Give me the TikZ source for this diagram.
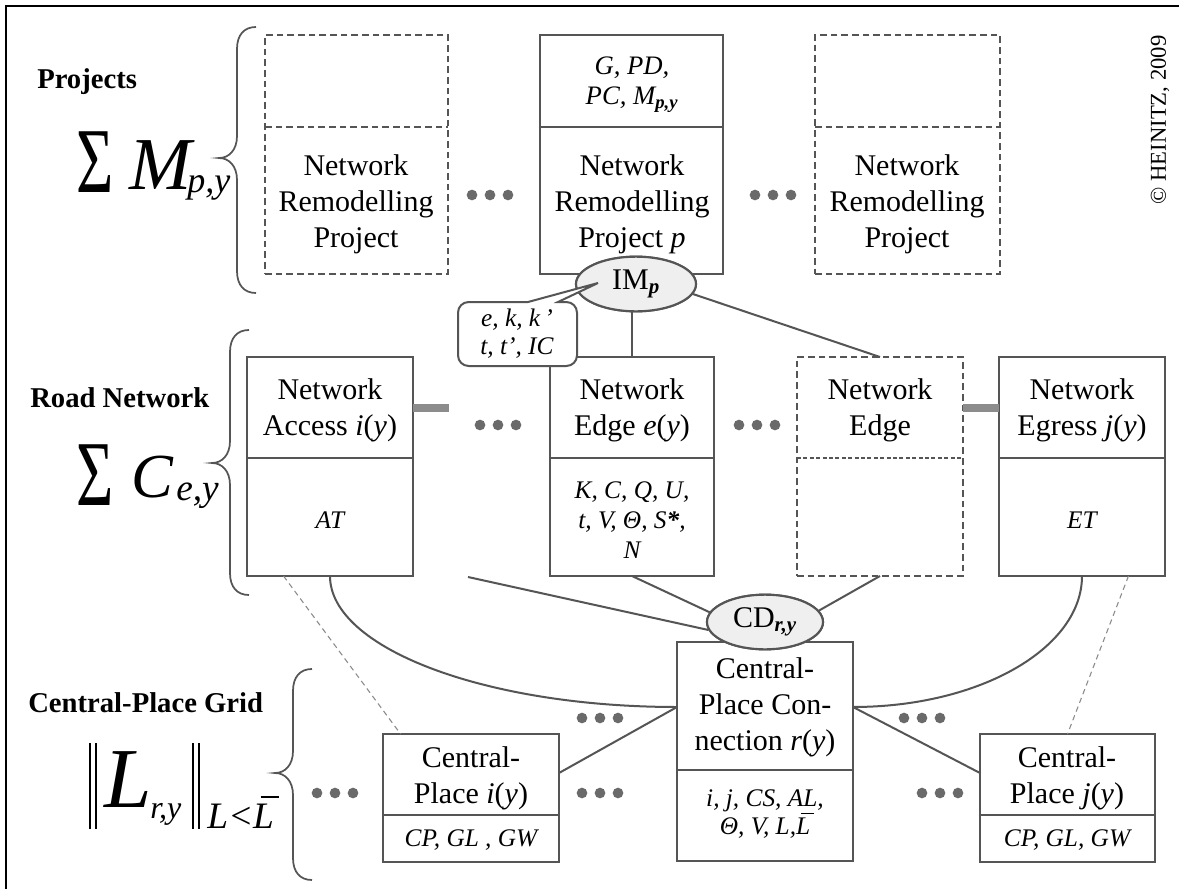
\documentclass[tikz,border=0pt]{standalone}
\usepackage{fontspec}
\setmainfont{Liberation Serif}
\usetikzlibrary{fit,shapes.geometric,calc}

\definecolor{ink}{HTML}{555555}
\definecolor{dotc}{HTML}{6A6A6A}
\definecolor{stubc}{HTML}{8C8C8C}
\definecolor{ellfill}{HTML}{EFEFEF}
\definecolor{faint}{HTML}{8A8A8A}

\newcommand\fs[2]{\fontsize{#1}{#2}\selectfont}
% L with an overbar, usable in text mode
\newcommand\Lbar{\leavevmode\setbox0\hbox{L}\rlap{\hbox to \wd0{\hskip0.2em\rule[0.8em]{0.5em}{0.05em}\hss}}\box0}
% curly brace opening to the right: spine x, top y, tip y, bottom y
\newcommand\drawbrace[4]{%
  \draw[brace line] (#1+19,#2) .. controls (#1+7,#2) and (#1,#2+8) .. (#1,#2+22)
    -- (#1,#3-22) .. controls (#1,#3-8) and (#1-8,#3) .. (#1-18,#3)
    .. controls (#1-8,#3) and (#1,#3+8) .. (#1,#3+22)
    -- (#1,#4-22) .. controls (#1,#4-8) and (#1+7,#4) .. (#1+19,#4);}
% a row of three dots
\newcommand\dotrow[3]{%
  \foreach \k/\n in {-1/a,0/b,1/c} \node[dot] (#1\n) at (#2+18*\k,#3) {};}

\begin{document}
\begin{tikzpicture}[x=0.75pt,y=-0.75pt,
  cell/.style={draw=ink, line width=2pt, inner sep=0pt, outer sep=0pt},
  dcell/.style={cell, dash pattern=on 5pt off 3pt},
  rule/.style={draw=ink, line width=2pt},
  drule/.style={rule, dash pattern=on 5pt off 3pt},
  frule/.style={draw=ink, line width=1.5pt, dash pattern=on 3pt off 1.8pt},
  word/.style={font=\fs{22.5}{27}, align=center, inner sep=0pt},
  vars/.style={font=\fs{19}{22.5}\itshape, align=center, inner sep=0pt},
  head/.style={font=\fs{21.5}{26}\bfseries, anchor=west, inner sep=0pt},
  bub/.style={ellipse, draw=ink, fill=ellfill, line width=1.6pt, inner sep=0pt,
    font=\fs{22.5}{26}, minimum width=87pt, minimum height=41pt},
  link/.style={draw=ink, line width=1.5pt},
  hint/.style={draw=faint, line width=0.8pt, dash pattern=on 4pt off 3pt},
  stub/.style={draw=stubc, line width=6.5pt},
  dot/.style={circle, fill=dotc, inner sep=0pt, minimum size=8pt},
  brace line/.style={draw=ink, line width=1.3pt},
  mathpart/.style={anchor=base west, inner sep=0pt},
]
\useasboundingbox (0,0) rectangle (1179,889);
\fill[white] (0,0) rectangle (1179,889);

% outer frame
\draw[black, line width=1.6pt] (6,895) -- (6,6) -- (1185,6);

% reference heights for dividers and connector ends
\coordinate (divT) at (0,127);
\coordinate (divM) at (0,458);
\coordinate (stubY) at (0,408);
\coordinate (yA) at (0,773);
\coordinate (yB) at (0,707);

% ---------- Projects ----------
\node[head] (hProj) at (37,82) {Projects};
\node[mathpart] (sigP) at (76,192) {\scalebox{1}[1.45]{\fs{48}{48}Σ}};
\node[mathpart] (mP) at (129,189) {\fs{56}{56}\itshape M};
\node[mathpart] (subP) at (187,192) {\fs{27}{27}\itshape p,y};
\drawbrace{237}{27}{158}{293}

\node[dcell, fit={(265,35) (448,274)}] (projL) {};
\draw[drule] (projL.west |- divT) -- (projL.east |- divT);
\node[word] (projLt) at (356,204) {Network\\Remodelling\\Project};

\node[cell, fit={(540,35) (723,274)}] (projP) {};
\draw[rule] (projP.west |- divT) -- (projP.east |- divT);
\node[vars, font=\fs{20}{22.5}\itshape] (projPv) at (632,85) {G, PD,\\PC, M\textsubscript{\bfseries p,y}};
\node[word] (projPt) at (632,204) {Network\\Remodelling\\Project \textit{p}};

\node[dcell, fit={(815,35) (1000,274)}] (projR) {};
\draw[drule] (projR.west |- divT) -- (projR.east |- divT);
\node[word] (projRt) at (907,204) {Network\\Remodelling\\Project};

\dotrow{dpa}{490}{195}
\dotrow{dpb}{773}{195}

\node[rotate=90, inner sep=0pt, font=\fs{17}{17}] (copy) at (1160,120) {© HEINITZ, 2009};

% ---------- Road Network ----------
\node[head] (hRoad) at (30,398) {Road Network};
\node[mathpart] (sigR) at (76,505) {\scalebox{1}[1.45]{\fs{48}{48}Σ}};
\node[mathpart] (cR) at (131,497) {\fs{47}{47}\itshape C};
\node[mathpart] (subR) at (176,500) {\fs{28}{28}\itshape e,y};
\drawbrace{230}{330}{463}{595}

\node[cell, fit={(247,357) (413,576)}] (acc) {};
\draw[rule] (acc.west |- divM) -- (acc.east |- divM);
\node[word] (acct) at (330,410) {Network\\Access \textit{i}(\textit{y})};
\node[vars] (accv) at (330,520) {AT};

\node[cell, fit={(550,357) (714,576)}] (edge) {};
\draw[rule] (edge.west |- divM) -- (edge.east |- divM);
\node[word] (edget) at (632,410) {Network\\Edge \textit{e}(\textit{y})};
\node[vars] (edgev) at (632,520) {K, C, Q, U,\\t, V, Θ, S\textbf{*},\\N};

\node[dcell, fit={(797,357) (963,576)}] (edged) {};
\draw[frule] (edged.west |- divM) -- (edged.east |- divM);
\node[word] (edgedt) at (880,410) {Network\\Edge};

\node[cell, fit={(999,357) (1165,576)}] (egr) {};
\draw[rule] (egr.west |- divM) -- (egr.east |- divM);
\node[word] (egrt) at (1082,410) {Network\\Egress \textit{j}(\textit{y})};
\node[vars] (egrv) at (1082,520) {ET};

\coordinate (accstub) at (449,408);
\draw[stub] (acc.east |- stubY) -- (accstub);
\draw[stub] (edged.east |- stubY) -- (egr.west |- stubY);

\dotrow{dra}{498}{425}
\dotrow{drb}{757}{425}

% ---------- Central-Place Grid ----------
\node[head] (hGrid) at (28,703) {Central-Place Grid};
\node[anchor=north west, inner sep=0pt] (barL) at (89,743) {\rule{1.5pt}{64pt}\hspace{2.6pt}\rule{1.5pt}{64pt}};
\node[mathpart] (lG) at (104,807) {\fs{64}{64}\itshape L};
\node[mathpart] (subG) at (150,818) {\fs{24}{24}\itshape r,y};
\node[anchor=north west, inner sep=0pt] (barR) at (192,743) {\rule{1.5pt}{64pt}\hspace{2.6pt}\rule{1.5pt}{64pt}};
\node[mathpart] (subG2) at (207,828) {\fs{28}{28}\itshape L<\Lbar};
\drawbrace{293}{669}{773}{880}

\node[cell, fit={(383,734) (559,862)}] (cpi) {};
\draw[rule] (cpi.west |- 0,815) -- (cpi.east |- 0,815);
\node[word] (cpit) at (471,778) {Central-\\Place \textit{i}(\textit{y})};
\node[vars] (cpiv) at (471,840) {CP, GL , GW};

\node[cell, fit={(677,642) (853,861)}] (cpc) {};
\draw[rule] (cpc.west |- 0,770) -- (cpc.east |- 0,770);
\node[word] (cpct) at (765,707) {Central-\\Place Con-\\nection \textit{r}(\textit{y})};
\node[vars, font=\fs{19}{20.5}\itshape] (cpcv) at (765,814) {i, j, CS, AL,\\Θ, V, L,\Lbar};

\node[cell, fit={(980,734) (1155,862)}] (cpj) {};
\draw[rule] (cpj.west |- 0,815) -- (cpj.east |- 0,815);
\node[word] (cpjt) at (1067,778) {Central-\\Place \textit{j}(\textit{y})};
\node[vars] (cpjv) at (1067,840) {CP, GL, GW};

\dotrow{dga}{335}{793}
\dotrow{dgb}{600}{718}
\dotrow{dgc}{600}{793}
\dotrow{dgd}{922}{718}
\dotrow{dge}{940}{793}

% ---------- connectors ----------
\coordinate (cdc) at (765,622);
\coordinate (impc) at (636,284);
\node[bub] (cd) at (cdc) {};
\node[bub, minimum width=90pt] (imp) at (impc) {};

\coordinate (freeEnd) at (468,577);
\draw[link] (edge.north) -- (edge.north |- imp.south);
\draw[link] (imp.-10) -- (edged.north);
\draw[link] (freeEnd) -- (cd.188);
\draw[link] (edge.south) -- (cd.170);
\draw[link] (edged.south) -- (cd.12);
\draw[link] (acc.south) .. controls +(0,72) and +(-192,0) .. (cpc.west |- yB);
\draw[link] (egr.south) .. controls +(0,72) and +(127,0) .. (cpc.east |- yB);
\draw[link] (cpi.east |- yA) -- (cpc.west |- yB);
\draw[link] (cpc.east |- yB) -- (cpj.west |- yA);
\draw[hint] ($(acc.south west)!0.22!(acc.south east)$) -- ($(cpi.north west)!0.1!(cpi.north east)$);
\draw[hint] ($(egr.south west)!0.78!(egr.south east)$) -- (cpj.north);

% the two ellipses, drawn over the connector ends
\node[bub] (cdl) at (cdc) {CD\textsubscript{\bfseries\itshape r,y}};
\node[bub, minimum width=90pt] (iml) at (impc) {IM\textsubscript{\bfseries\itshape p}};

% callout with its pointer into the IM ellipse
\coordinate (imtip) at (598,283);
\filldraw[draw=ink, fill=white, line width=1.5pt]
  (558,302) [rounded corners=8pt] -- (577,302) -- (577,366) -- (458,366) -- (458,302)
  [sharp corners] -- (528,302) -- (imtip) -- cycle;
\node[vars, font=\fs{19}{21}\itshape] (note) at (517,334) {e, k, k\,’\\t, t’, IC};
\end{tikzpicture}
\end{document}
